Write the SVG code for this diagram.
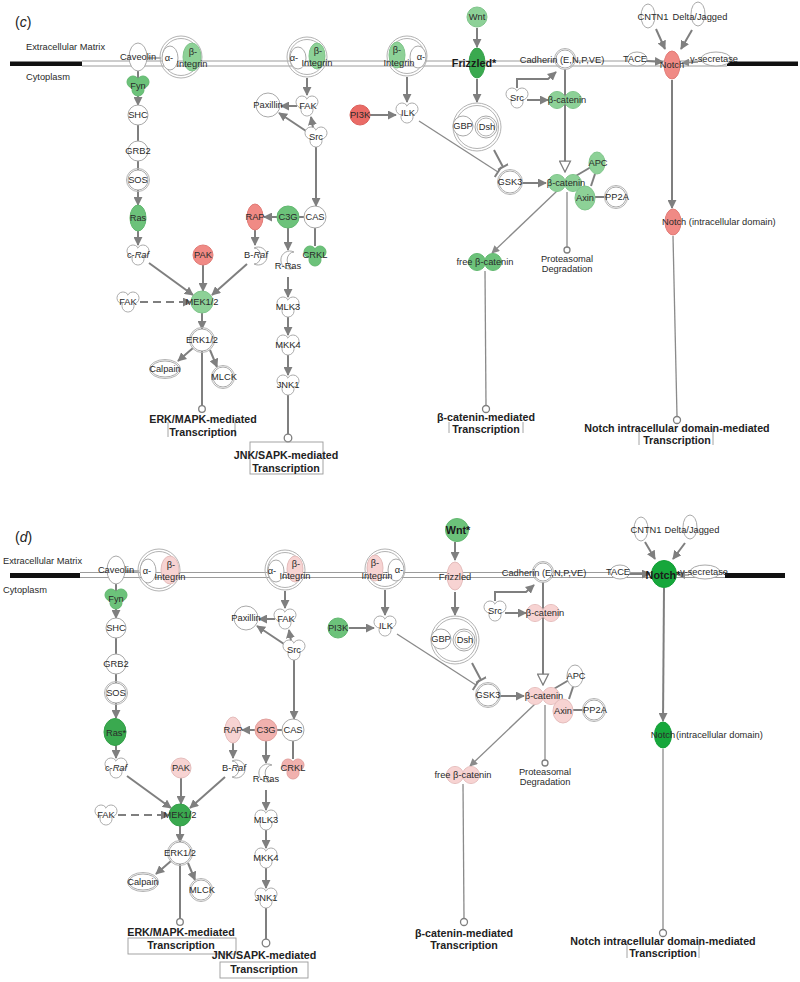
<svg xmlns="http://www.w3.org/2000/svg" width="800" height="982" viewBox="0 0 800 982">
<style>
.t{font-family:"Liberation Sans",Arial,Helvetica,sans-serif;font-size:9.3px;fill:#2a2a2a;text-anchor:middle}
.st{text-anchor:start}
.bt{font-weight:bold;font-size:10.7px;fill:#222}
.big{font-weight:bold;font-size:10.8px;fill:#1a1a1a}
.lab{font-size:14px;fill:#222;text-anchor:start}
.wf{fill:#fff;stroke:#a9a9a9;stroke-width:1}
.rg{fill:none;stroke:#b3b3b3;stroke-width:1}
.gL{fill:#8dd197;stroke:#80c58b;stroke-width:1}
.gM{fill:#6cc27a;stroke:#62b870;stroke-width:1}
.gD{fill:#3aa94f;stroke:#33a048;stroke-width:1}
.gX{fill:#16a73b;stroke:#129f36;stroke-width:1}
.rS{fill:#f08a85;stroke:#e27c77;stroke-width:1}
.rR{fill:#ea6b66;stroke:#dc605b;stroke-width:1}
.pL{fill:#f7d3d2;stroke:#e5bdbc;stroke-width:1}
.pM{fill:#f1b1ae;stroke:#e2a09d;stroke-width:1}
.ln{stroke:#7f7f7f;stroke-width:2;fill:none}
.lt{stroke:#8a8a8a;stroke-width:1.3;fill:none}
.dsh{stroke-dasharray:8,5}
.mem{stroke:#9c9c9c;stroke-width:1;fill:none}
.end{fill:#fff;stroke:#7f7f7f;stroke-width:1.3}
.bx{fill:none;stroke:#9a9a9a;stroke-width:0.9}
</style>
<defs>
<marker id="ah" viewBox="0 0 10 10" refX="9" refY="5" markerUnits="userSpaceOnUse" markerWidth="9" markerHeight="9" orient="auto"><path d="M0,0L10,5L0,10z" fill="#7f7f7f"/></marker>
<marker id="ah2" viewBox="0 0 10 10" refX="9" refY="5" markerUnits="userSpaceOnUse" markerWidth="8" markerHeight="8" orient="auto"><path d="M0,0L10,5L0,10z" fill="#8a8a8a"/></marker>
<marker id="oh" viewBox="0 0 12 12" refX="11" refY="6" markerUnits="userSpaceOnUse" markerWidth="13" markerHeight="13" orient="auto"><path d="M1,1L11,6L1,11z" fill="#fff" stroke="#7f7f7f" stroke-width="1.2"/></marker>
<marker id="tb" viewBox="0 0 4 12" refX="2" refY="6" markerUnits="userSpaceOnUse" markerWidth="4" markerHeight="12" orient="auto"><path d="M2,0V12" stroke="#7f7f7f" stroke-width="2"/></marker>
<g id="kin"><circle cx="-5" cy="-4" r="6"/><circle cx="5" cy="-4" r="6"/><circle cx="0" cy="4" r="6"/><circle cx="-5" cy="-4" r="5.3" stroke="none"/><circle cx="5" cy="-4" r="5.3" stroke="none"/><circle cx="0" cy="4" r="5.3" stroke="none"/></g>
<g id="db"><circle cx="-8" cy="0" r="8.5"/><circle cx="8" cy="0" r="8.5"/><circle cx="-8" cy="0" r="7.9" stroke="none"/><circle cx="8" cy="0" r="7.9" stroke="none"/></g>
<path id="gp" d="M4,-8A9,9 0 1,0 4,8A6,7 0 0,1 4,-8Z"/>
</defs>
<rect width="800" height="982" fill="#fff"/>

<!-- ===================== PANEL (c) ===================== -->
<g id="panel-c">
<text x="15" y="27" class="t lab">(<tspan font-style="italic">c</tspan>)</text>
<text x="26" y="50" class="t st">Extracellular Matrix</text>
<text x="26" y="80" class="t st">Cytoplasm</text>
<g id="c-membrane">
<line x1="82" y1="61" x2="727" y2="61" class="mem"/>
<line x1="82" y1="66" x2="727" y2="66" class="mem"/>
<rect x="10" y="61.5" width="72" height="4.5" fill="#111"/>
<rect x="727" y="61.5" width="71" height="4.5" fill="#111"/>
</g>
<g id="c-connectors">
<line x1="148" y1="58" x2="161" y2="58" class="lt"/>
<line x1="138" y1="71" x2="138" y2="78" class="ln"/>
<line x1="138" y1="96" x2="138" y2="105" class="ln" marker-end="url(#ah)"/>
<line x1="138" y1="125" x2="138" y2="141" class="ln"/>
<line x1="138" y1="161" x2="138" y2="170" class="ln"/>
<line x1="138" y1="190" x2="138" y2="205" class="ln" marker-end="url(#ah)"/>
<line x1="138" y1="231" x2="138" y2="245" class="ln" marker-end="url(#ah)"/>
<line x1="149" y1="263" x2="193" y2="295" class="ln" marker-end="url(#ah)"/>
<line x1="203" y1="265" x2="203" y2="291" class="ln" marker-end="url(#ah)"/>
<line x1="247" y1="264" x2="212" y2="295" class="ln" marker-end="url(#ah)"/>
<line x1="140" y1="302" x2="191" y2="302" class="ln dsh" marker-end="url(#ah)"/>
<line x1="202" y1="313" x2="202" y2="329" class="ln" marker-end="url(#ah)"/>
<line x1="193" y1="348" x2="178" y2="361" class="ln" marker-end="url(#ah)"/>
<line x1="210" y1="350" x2="217" y2="367" class="ln" marker-end="url(#ah)"/>
<line x1="202" y1="351" x2="202" y2="406" class="ln"/>
<circle cx="202" cy="409" r="3.3" class="end"/>
<line x1="255" y1="230" x2="255" y2="245" class="ln" marker-end="url(#ah)"/>
<line x1="277" y1="217" x2="264" y2="217" class="ln" marker-end="url(#ah)"/>
<line x1="299" y1="217" x2="304" y2="217" class="ln"/>
<line x1="315" y1="228" x2="315" y2="246" class="ln"/>
<line x1="288" y1="228" x2="288" y2="250" class="ln" marker-end="url(#ah)"/>
<line x1="288" y1="277" x2="288" y2="297" class="ln" marker-end="url(#ah)"/>
<line x1="288" y1="317" x2="288" y2="335" class="ln" marker-end="url(#ah)"/>
<line x1="288" y1="355" x2="288" y2="375" class="ln" marker-end="url(#ah)"/>
<line x1="288" y1="395" x2="288" y2="434" class="ln"/>
<circle cx="288" cy="438" r="3.8" class="end"/>
<line x1="316" y1="147" x2="316" y2="206" class="ln" marker-end="url(#ah)"/>
<line x1="307" y1="78" x2="307" y2="95" class="ln" marker-end="url(#ah)"/>
<line x1="297" y1="106" x2="281" y2="106" class="ln" marker-end="url(#ah)"/>
<line x1="306" y1="131" x2="279" y2="113" class="ln" marker-end="url(#ah)"/>
<line x1="313" y1="128" x2="311" y2="117" class="ln" marker-end="url(#ah)"/>
<line x1="407" y1="77" x2="407" y2="102" class="ln" marker-end="url(#ah)"/>
<line x1="370" y1="115" x2="396" y2="115" class="ln" marker-end="url(#ah)"/>
<line x1="419" y1="121" x2="498" y2="172" class="lt" marker-end="url(#tb)"/>
<line x1="494" y1="150" x2="503" y2="167" class="ln" marker-end="url(#tb)"/>
<line x1="477" y1="28" x2="477" y2="47" class="ln" marker-end="url(#ah)"/>
<line x1="477" y1="79" x2="477" y2="102" class="ln" marker-end="url(#ah)"/>
<line x1="522" y1="183" x2="546" y2="183" class="ln" marker-end="url(#ah)"/>
<line x1="565" y1="69" x2="565" y2="172" class="ln" marker-end="url(#oh)"/>
<line x1="527" y1="100" x2="548" y2="100" class="ln" marker-end="url(#ah)"/>
<path d="M517,88V79H548L556,72" class="ln" marker-end="url(#ah)"/>
<line x1="574" y1="177" x2="591" y2="167" class="ln"/>
<line x1="595" y1="174" x2="591" y2="186" class="ln"/>
<line x1="595" y1="197" x2="606" y2="197" class="ln"/>
<line x1="557" y1="191" x2="492" y2="253" class="lt" marker-end="url(#ah2)"/>
<line x1="567" y1="192" x2="567" y2="247" class="lt"/>
<circle cx="567" cy="250" r="3" class="end"/>
<line x1="485" y1="271" x2="486" y2="406" class="lt"/>
<circle cx="486" cy="409" r="3.5" class="end"/>
<line x1="656" y1="29" x2="665" y2="49" class="ln" marker-end="url(#ah)"/>
<line x1="692" y1="30" x2="681" y2="49" class="ln" marker-end="url(#ah)"/>
<line x1="647" y1="61" x2="663" y2="62" class="ln" marker-end="url(#ah)"/>
<line x1="698" y1="62" x2="682" y2="63" class="lt" marker-end="url(#ah2)"/>
<line x1="672" y1="80" x2="672" y2="208" class="ln" marker-end="url(#ah)"/>
<line x1="673" y1="236" x2="677" y2="416" class="lt"/>
<circle cx="677" cy="420" r="3.5" class="end"/>
</g>
<g id="c-caveolin"><ellipse cx="138" cy="57" rx="9" ry="14" class="wf"/><text x="138" y="60" class="t">Caveolin</text></g>
<g id="c-integrin1"><circle cx="181" cy="57" r="21" class="rg"/><circle cx="181" cy="57" r="18.5" class="rg"/><ellipse cx="170" cy="58" rx="8" ry="12" class="wf"/><ellipse cx="192" cy="57" rx="9" ry="14" class="gL"/><text x="169" y="61" class="t">α-</text><text x="193" y="55" class="t">β-</text><text x="192" y="67" class="t">Integrin</text></g>
<g id="c-fyn"><use href="#kin" x="138" y="86" class="gM"/><text x="138" y="89" class="t">Fyn</text></g>
<g id="c-shc"><circle cx="138" cy="115" r="10" class="wf"/><text x="138" y="118" class="t">SHC</text></g>
<g id="c-grb2"><circle cx="138" cy="151" r="10" class="wf"/><text x="138" y="154" class="t">GRB2</text></g>
<g id="c-sos"><circle cx="138" cy="180" r="10" class="wf"/><circle cx="138" cy="180" r="11.5" class="rg"/><text x="138" y="183" class="t">SOS</text></g>
<g id="c-ras"><ellipse cx="138" cy="218" rx="8" ry="13" class="gM"/><text x="138" y="221" class="t">Ras</text></g>
<g id="c-craf"><use href="#kin" x="138" y="255" class="wf"/><text x="138" y="258" class="t">c-<tspan font-style="italic">Raf</tspan></text></g>
<g id="c-pak"><circle cx="203" cy="255" r="10" class="rS"/><text x="203" y="258" class="t">PAK</text></g>
<g id="c-mek"><circle cx="202" cy="302" r="11" class="gL"/><text x="202" y="305" class="t">MEK1/2</text></g>
<g id="c-fak2"><use href="#kin" x="128" y="302" class="wf"/><text x="128" y="305" class="t">FAK</text></g>
<g id="c-erk"><circle cx="202" cy="340" r="11" class="wf"/><circle cx="202" cy="340" r="12.5" class="rg"/><text x="202" y="343" class="t">ERK1/2</text></g>
<g id="c-calpain"><ellipse cx="165" cy="369" rx="14" ry="8" class="wf"/><ellipse cx="165" cy="369" rx="15.5" ry="9.5" class="rg"/><text x="165" y="372" class="t">Calpain</text></g>
<g id="c-mlck"><circle cx="223" cy="377" r="10" class="wf"/><circle cx="223" cy="377" r="11.5" class="rg"/><text x="224" y="380" class="t">MLCK</text></g>
<g id="c-rap"><ellipse cx="255" cy="217" rx="8" ry="13" class="rS"/><text x="255" y="220" class="t">RAP</text></g>
<g id="c-braf"><use href="#gp" transform="translate(258,256) scale(-1,1)" class="wf"/><text x="256" y="258" class="t">B-<tspan font-style="italic">Raf</tspan></text></g>
<g id="c-c3g"><circle cx="288" cy="217" r="11" class="gM"/><text x="288" y="220" class="t">C3G</text></g>
<g id="c-cas"><circle cx="315" cy="217" r="11" class="wf"/><text x="315" y="220" class="t">CAS</text></g>
<g id="c-crkl"><use href="#kin" x="315" y="256" class="gM"/><text x="315" y="258" class="t">CRKL</text></g>
<g id="c-rras"><use href="#gp" x="290" y="260" class="wf"/><text x="288" y="269" class="t">R-Ras</text></g>
<g id="c-mlk3"><use href="#kin" x="288" y="307" class="wf"/><text x="288" y="310" class="t">MLK3</text></g>
<g id="c-mkk4"><use href="#kin" x="288" y="345" class="wf"/><text x="288" y="348" class="t">MKK4</text></g>
<g id="c-jnk1"><use href="#kin" x="288" y="385" class="wf"/><text x="288" y="388" class="t">JNK1</text></g>
<g id="c-integrin2"><circle cx="307" cy="57" r="20" class="rg"/><circle cx="307" cy="57" r="17.5" class="rg"/><ellipse cx="298" cy="58" rx="8" ry="11" class="wf"/><ellipse cx="317" cy="56" rx="8" ry="13" class="gL"/><text x="294" y="61" class="t">α-</text><text x="318" y="54" class="t">β-</text><text x="317" y="66" class="t">Integrin</text></g>
<g id="c-paxillin"><circle cx="268" cy="105" r="12" class="wf"/><text x="268" y="108" class="t">Paxillin</text></g>
<g id="c-fak1"><use href="#kin" x="307" y="106" class="wf"/><text x="308" y="109" class="t">FAK</text></g>
<g id="c-src1"><use href="#kin" x="316" y="137" class="wf"/><text x="316" y="140" class="t">Src</text></g>
<g id="c-integrin3"><circle cx="407" cy="56" r="20" class="rg"/><circle cx="407" cy="56" r="17.5" class="rg"/><ellipse cx="418" cy="57" rx="8" ry="11" class="wf"/><ellipse cx="397" cy="55" rx="8" ry="13" class="gL"/><text x="397" y="53" class="t">β-</text><text x="399" y="66" class="t">Integrin</text><text x="421" y="60" class="t">α-</text></g>
<g id="c-ilk"><use href="#kin" x="407" y="113" class="wf"/><text x="408" y="116" class="t">ILK</text></g>
<g id="c-pi3k"><circle cx="360" cy="115" r="10" class="rR"/><text x="360" y="118" class="t">PI3K</text></g>
<g id="c-wnt"><circle cx="477" cy="17" r="10" class="gL"/><text x="477" y="20" class="t">Wnt</text></g>
<g id="c-frizzled"><ellipse cx="477" cy="63" rx="8" ry="15" class="gD"/><text x="474" y="67" class="t big">Frizzled*</text></g>
<g id="c-gbpdsh"><circle cx="477" cy="127" r="24" class="rg"/><circle cx="477" cy="127" r="21.5" class="rg"/><circle cx="463" cy="126" r="10" class="wf"/><circle cx="486" cy="127" r="11" class="wf"/><circle cx="486" cy="127" r="9" class="rg"/><text x="463" y="129" class="t">GBP</text><text x="487" y="130" class="t">Dsh</text></g>
<g id="c-gsk3"><circle cx="510" cy="182" r="11" class="wf"/><circle cx="510" cy="182" r="12.5" class="rg"/><text x="510" y="185" class="t">GSK3</text></g>
<g id="c-bcat2"><use href="#db" x="565" y="183" class="gL"/><text x="566" y="186" class="t">β-catenin</text></g>
<g id="c-apc"><ellipse cx="597" cy="163" rx="8" ry="11" class="gL"/><text x="598" y="166" class="t">APC</text></g>
<g id="c-axin"><ellipse cx="585" cy="198" rx="10" ry="12" class="gL"/><text x="585" y="201" class="t">Axin</text></g>
<g id="c-pp2a"><circle cx="616" cy="197" r="10" class="wf"/><circle cx="616" cy="197" r="11.5" class="rg"/><text x="617" y="200" class="t">PP2A</text></g>
<g id="c-src2"><use href="#kin" x="517" y="98" class="wf"/><text x="517" y="101" class="t">Src</text></g>
<g id="c-bcat1"><use href="#db" x="565" y="100" class="gL"/><text x="567" y="103" class="t">β-catenin</text></g>
<g id="c-cadherin"><circle cx="565" cy="59" r="9" class="wf"/><circle cx="565" cy="59" r="10.5" class="rg"/><text x="562" y="63" class="t">Cadherin (E,N,P,VE)</text></g>
<g id="c-tace"><ellipse cx="637" cy="59" rx="10" ry="7" class="wf"/><text x="635" y="62" class="t">TACE</text></g>
<g id="c-notch"><ellipse cx="672" cy="65" rx="8" ry="14" class="rS"/><text x="672" y="68" class="t">Notch</text></g>
<g id="c-gsec"><ellipse cx="716" cy="59" rx="15" ry="7" class="wf"/><text x="714" y="62" class="t">γ-secretase</text></g>
<g id="c-cntn1"><ellipse cx="648" cy="16" rx="7" ry="12" class="wf"/><text x="653" y="20" class="t">CNTN1</text></g>
<g id="c-delta"><ellipse cx="698" cy="14" rx="7" ry="12" class="wf"/><text x="700" y="20" class="t">Delta/Jagged</text></g>
<g id="c-nicd"><ellipse cx="673" cy="222" rx="8" ry="13" class="rS"/><text x="662" y="225" class="t st">Notch (intracellular domain)</text></g>
<g id="c-freebcat"><use href="#db" x="485" y="262" class="gM"/><text x="485" y="265" class="t">free β-catenin</text></g>
<g id="c-prot"><text x="567" y="261.5" class="t">Proteasomal</text><text x="567" y="271.5" class="t">Degradation</text></g>
<g id="c-erktx"><line x1="168" y1="422" x2="168" y2="437" class="bx"/><line x1="235" y1="422" x2="235" y2="437" class="bx"/><text x="203" y="423" class="t bt">ERK/MAPK-mediated</text><text x="203" y="436" class="t bt">Transcription</text></g>
<g id="c-jnktx"><rect x="250" y="442" width="73" height="32" class="bx"/><text x="286" y="459" class="t bt">JNK/SAPK-mediated</text><text x="286" y="472" class="t bt">Transcription</text></g>
<g id="c-bcattx"><line x1="449" y1="422" x2="449" y2="433" class="bx"/><line x1="523" y1="422" x2="523" y2="433" class="bx"/><text x="486" y="421" class="t bt">β-catenin-mediated</text><text x="486" y="433" class="t bt">Transcription</text></g>
<g id="c-notchtx"><line x1="639" y1="428" x2="639" y2="445" class="bx"/><line x1="713" y1="428" x2="713" y2="445" class="bx"/><text x="677" y="432" class="t bt">Notch intracellular domain-mediated</text><text x="677" y="444" class="t bt">Transcription</text></g>
</g>

<!-- ===================== PANEL (d) ===================== -->
<g id="panel-d">
<g id="d-membrane">
<line x1="80" y1="572.5" x2="725" y2="572.5" class="mem"/>
<line x1="80" y1="577.5" x2="725" y2="577.5" class="mem"/>
<rect x="10" y="573" width="70" height="5" fill="#111"/>
<rect x="725" y="573" width="60" height="5" fill="#111"/>
</g>
<g transform="translate(-22,513)">
<text x="37" y="29" class="t lab">(<tspan font-style="italic">d</tspan>)</text>
<text x="25" y="51" class="t st">Extracellular Matrix</text>
<text x="25" y="80" class="t st">Cytoplasm</text>
<g id="d-connectors">
<line x1="148" y1="58" x2="161" y2="58" class="lt"/>
<line x1="138" y1="71" x2="138" y2="78" class="ln"/>
<line x1="138" y1="96" x2="138" y2="105" class="ln" marker-end="url(#ah)"/>
<line x1="138" y1="125" x2="138" y2="141" class="ln"/>
<line x1="138" y1="161" x2="138" y2="170" class="ln"/>
<line x1="138" y1="190" x2="138" y2="205" class="ln" marker-end="url(#ah)"/>
<line x1="138" y1="232" x2="138" y2="245" class="ln" marker-end="url(#ah)"/>
<line x1="149" y1="263" x2="193" y2="295" class="ln" marker-end="url(#ah)"/>
<line x1="203" y1="265" x2="203" y2="291" class="ln" marker-end="url(#ah)"/>
<line x1="247" y1="264" x2="212" y2="295" class="ln" marker-end="url(#ah)"/>
<line x1="140" y1="302" x2="191" y2="302" class="ln dsh" marker-end="url(#ah)"/>
<line x1="202" y1="313" x2="202" y2="329" class="ln" marker-end="url(#ah)"/>
<line x1="193" y1="348" x2="178" y2="361" class="ln" marker-end="url(#ah)"/>
<line x1="210" y1="350" x2="217" y2="367" class="ln" marker-end="url(#ah)"/>
<line x1="202" y1="351" x2="202" y2="406" class="ln"/>
<circle cx="202" cy="409" r="3.3" class="end"/>
<line x1="255" y1="230" x2="255" y2="245" class="ln" marker-end="url(#ah)"/>
<line x1="277" y1="217" x2="264" y2="217" class="ln" marker-end="url(#ah)"/>
<line x1="299" y1="217" x2="304" y2="217" class="ln"/>
<line x1="315" y1="228" x2="315" y2="246" class="ln"/>
<line x1="288" y1="228" x2="288" y2="250" class="ln" marker-end="url(#ah)"/>
<line x1="288" y1="277" x2="288" y2="297" class="ln" marker-end="url(#ah)"/>
<line x1="288" y1="317" x2="288" y2="335" class="ln" marker-end="url(#ah)"/>
<line x1="288" y1="355" x2="288" y2="375" class="ln" marker-end="url(#ah)"/>
<line x1="288" y1="395" x2="288" y2="426" class="ln"/>
<circle cx="288" cy="430" r="3.8" class="end"/>
<line x1="316" y1="147" x2="316" y2="206" class="ln" marker-end="url(#ah)"/>
<line x1="307" y1="78" x2="307" y2="95" class="ln" marker-end="url(#ah)"/>
<line x1="297" y1="106" x2="281" y2="106" class="ln" marker-end="url(#ah)"/>
<line x1="306" y1="131" x2="279" y2="113" class="ln" marker-end="url(#ah)"/>
<line x1="313" y1="128" x2="311" y2="117" class="ln" marker-end="url(#ah)"/>
<line x1="407" y1="77" x2="407" y2="102" class="ln" marker-end="url(#ah)"/>
<line x1="371" y1="115" x2="396" y2="115" class="ln" marker-end="url(#ah)"/>
<line x1="419" y1="121" x2="498" y2="172" class="lt" marker-end="url(#tb)"/>
<line x1="494" y1="150" x2="503" y2="167" class="ln" marker-end="url(#tb)"/>
<line x1="477" y1="29" x2="477" y2="47" class="ln" marker-end="url(#ah)"/>
<line x1="477" y1="79" x2="477" y2="102" class="ln" marker-end="url(#ah)"/>
<line x1="522" y1="183" x2="546" y2="183" class="ln" marker-end="url(#ah)"/>
<line x1="565" y1="69" x2="565" y2="172" class="ln" marker-end="url(#oh)"/>
<line x1="527" y1="100" x2="548" y2="100" class="ln" marker-end="url(#ah)"/>
<path d="M517,88V79H548L556,72" class="ln" marker-end="url(#ah)"/>
<line x1="574" y1="177" x2="591" y2="167" class="ln"/>
<line x1="595" y1="174" x2="591" y2="186" class="ln"/>
<line x1="595" y1="197" x2="606" y2="197" class="ln"/>
<line x1="557" y1="191" x2="492" y2="253" class="lt" marker-end="url(#ah2)"/>
<line x1="567" y1="192" x2="567" y2="247" class="lt"/>
<circle cx="567" cy="250" r="3" class="end"/>
<line x1="485" y1="271" x2="486" y2="406" class="lt"/>
<circle cx="486" cy="409" r="3.5" class="end"/>
<line x1="652" y1="61" x2="672" y2="61" class="ln" marker-end="url(#ah)"/>
<g transform="translate(13,0)">
<line x1="654" y1="29" x2="664" y2="46" class="ln" marker-end="url(#ah)"/>
<line x1="694" y1="30" x2="682" y2="46" class="ln" marker-end="url(#ah)"/>
<line x1="698" y1="62" x2="687" y2="62" class="lt" marker-end="url(#ah2)"/>
<line x1="673" y1="75" x2="672" y2="208" class="ln" marker-end="url(#ah)"/>
<line x1="672" y1="236" x2="672" y2="416" class="lt"/>
<circle cx="672" cy="420" r="3.5" class="end"/>
</g>
</g>
<g id="d-caveolin"><ellipse cx="138" cy="57" rx="9" ry="14" class="wf"/><text x="138" y="60" class="t">Caveolin</text></g>
<g id="d-integrin1"><circle cx="181" cy="57" r="21" class="rg"/><circle cx="181" cy="57" r="18.5" class="rg"/><ellipse cx="170" cy="58" rx="8" ry="12" class="wf"/><ellipse cx="192" cy="57" rx="9" ry="14" class="pL"/><text x="169" y="61" class="t">α-</text><text x="193" y="55" class="t">β-</text><text x="192" y="67" class="t">Integrin</text></g>
<g id="d-fyn"><use href="#kin" x="138" y="86" class="gM"/><text x="138" y="89" class="t">Fyn</text></g>
<g id="d-shc"><circle cx="138" cy="115" r="10" class="wf"/><text x="138" y="118" class="t">SHC</text></g>
<g id="d-grb2"><circle cx="138" cy="151" r="10" class="wf"/><text x="138" y="154" class="t">GRB2</text></g>
<g id="d-sos"><circle cx="138" cy="180" r="10" class="wf"/><circle cx="138" cy="180" r="11.5" class="rg"/><text x="138" y="183" class="t">SOS</text></g>
<g id="d-ras"><ellipse cx="137" cy="219" rx="11" ry="13.5" class="gD"/><text x="138" y="223" class="t" font-size="11.5">Ras*</text></g>
<g id="d-craf"><use href="#kin" x="138" y="255" class="wf"/><text x="138" y="258" class="t">c-<tspan font-style="italic">Raf</tspan></text></g>
<g id="d-pak"><circle cx="203" cy="255" r="10" class="pL"/><text x="203" y="258" class="t">PAK</text></g>
<g id="d-mek"><circle cx="202" cy="302" r="11" class="gD"/><text x="202" y="305" class="t">MEK1/2</text></g>
<g id="d-fak2"><use href="#kin" x="128" y="302" class="wf"/><text x="128" y="305" class="t">FAK</text></g>
<g id="d-erk"><circle cx="202" cy="340" r="11" class="wf"/><circle cx="202" cy="340" r="12.5" class="rg"/><text x="202" y="343" class="t">ERK1/2</text></g>
<g id="d-calpain"><ellipse cx="165" cy="369" rx="14" ry="8" class="wf"/><ellipse cx="165" cy="369" rx="15.5" ry="9.5" class="rg"/><text x="165" y="372" class="t">Calpain</text></g>
<g id="d-mlck"><circle cx="223" cy="377" r="10" class="wf"/><circle cx="223" cy="377" r="11.5" class="rg"/><text x="224" y="380" class="t">MLCK</text></g>
<g id="d-rap"><ellipse cx="255" cy="217" rx="8" ry="13" class="pL"/><text x="255" y="220" class="t">RAP</text></g>
<g id="d-braf"><use href="#gp" transform="translate(258,256) scale(-1,1)" class="wf"/><text x="256" y="258" class="t">B-<tspan font-style="italic">Raf</tspan></text></g>
<g id="d-c3g"><circle cx="288" cy="217" r="11" class="pM"/><text x="288" y="220" class="t">C3G</text></g>
<g id="d-cas"><circle cx="315" cy="217" r="11" class="wf"/><text x="315" y="220" class="t">CAS</text></g>
<g id="d-crkl"><use href="#kin" x="315" y="256" class="pM"/><text x="315" y="258" class="t">CRKL</text></g>
<g id="d-rras"><use href="#gp" x="290" y="260" class="wf"/><text x="288" y="269" class="t">R-Ras</text></g>
<g id="d-mlk3"><use href="#kin" x="288" y="307" class="wf"/><text x="288" y="310" class="t">MLK3</text></g>
<g id="d-mkk4"><use href="#kin" x="288" y="345" class="wf"/><text x="288" y="348" class="t">MKK4</text></g>
<g id="d-jnk1"><use href="#kin" x="288" y="385" class="wf"/><text x="288" y="388" class="t">JNK1</text></g>
<g id="d-integrin2"><circle cx="307" cy="57" r="20" class="rg"/><circle cx="307" cy="57" r="17.5" class="rg"/><ellipse cx="298" cy="58" rx="8" ry="11" class="wf"/><ellipse cx="317" cy="56" rx="8" ry="13" class="pL"/><text x="294" y="61" class="t">α-</text><text x="318" y="54" class="t">β-</text><text x="317" y="66" class="t">Integrin</text></g>
<g id="d-paxillin"><circle cx="268" cy="105" r="12" class="wf"/><text x="268" y="108" class="t">Paxillin</text></g>
<g id="d-fak1"><use href="#kin" x="307" y="106" class="wf"/><text x="308" y="109" class="t">FAK</text></g>
<g id="d-src1"><use href="#kin" x="316" y="137" class="wf"/><text x="316" y="140" class="t">Src</text></g>
<g id="d-integrin3"><circle cx="407" cy="56" r="20" class="rg"/><circle cx="407" cy="56" r="17.5" class="rg"/><ellipse cx="418" cy="57" rx="8" ry="11" class="wf"/><ellipse cx="397" cy="55" rx="8" ry="13" class="pL"/><text x="397" y="53" class="t">β-</text><text x="399" y="66" class="t">Integrin</text><text x="421" y="60" class="t">α-</text></g>
<g id="d-ilk"><use href="#kin" x="407" y="113" class="wf"/><text x="408" y="116" class="t">ILK</text></g>
<g id="d-pi3k"><circle cx="360" cy="115" r="10" class="gM"/><text x="360" y="118" class="t">PI3K</text></g>
<g id="d-wnt"><circle cx="479" cy="17" r="11.5" class="gM"/><text x="480" y="21" class="t big">Wnt*</text></g>
<g id="d-frizzled"><ellipse cx="477" cy="63" rx="8" ry="14" class="pL"/><text x="477" y="67" class="t">Frizzled</text></g>
<g id="d-gbpdsh"><circle cx="477" cy="127" r="24" class="rg"/><circle cx="477" cy="127" r="21.5" class="rg"/><circle cx="463" cy="126" r="10" class="wf"/><circle cx="486" cy="127" r="11" class="wf"/><circle cx="486" cy="127" r="9" class="rg"/><text x="463" y="129" class="t">GBP</text><text x="487" y="130" class="t">Dsh</text></g>
<g id="d-gsk3"><circle cx="510" cy="182" r="11" class="wf"/><circle cx="510" cy="182" r="12.5" class="rg"/><text x="510" y="185" class="t">GSK3</text></g>
<g id="d-bcat2"><use href="#db" x="565" y="183" class="pL"/><text x="566" y="186" class="t">β-catenin</text></g>
<g id="d-apc"><ellipse cx="597" cy="163" rx="8" ry="11" class="wf"/><text x="598" y="166" class="t">APC</text></g>
<g id="d-axin"><ellipse cx="585" cy="198" rx="10" ry="12" class="pL"/><text x="585" y="201" class="t">Axin</text></g>
<g id="d-pp2a"><circle cx="616" cy="197" r="10" class="wf"/><circle cx="616" cy="197" r="11.5" class="rg"/><text x="617" y="200" class="t">PP2A</text></g>
<g id="d-src2"><use href="#kin" x="517" y="98" class="wf"/><text x="517" y="101" class="t">Src</text></g>
<g id="d-bcat1"><use href="#db" x="565" y="100" class="pL"/><text x="567" y="103" class="t">β-catenin</text></g>
<g id="d-cadherin"><circle cx="565" cy="59" r="9" class="wf"/><circle cx="565" cy="59" r="10.5" class="rg"/><text x="566" y="63" class="t">Cadherin (E,N,P,VE)</text></g>
<g id="d-tace"><ellipse cx="642" cy="59" rx="10" ry="7" class="wf"/><text x="640" y="62" class="t">TACE</text></g>
<g transform="translate(13,0)">
<g id="d-notch"><ellipse cx="673" cy="61" rx="12.5" ry="13.5" class="gX"/><text x="672" y="66" class="t big">Notch*</text></g>
<g id="d-gsec"><ellipse cx="714" cy="59" rx="15" ry="7" class="wf"/><text x="713" y="62" class="t">γ-secretase</text></g>
<g id="d-cntn1"><ellipse cx="650" cy="16" rx="7" ry="12" class="wf"/><text x="655" y="20" class="t">CNTN1</text></g>
<g id="d-delta"><ellipse cx="699" cy="14" rx="7" ry="12" class="wf"/><text x="701" y="20" class="t">Delta/Jagged</text></g>
<g id="d-nicd"><ellipse cx="672" cy="222" rx="8.5" ry="13" class="gX"/><text x="685" y="225" class="t st">(intracellular domain)</text><text x="672" y="225" class="t">Notch</text></g>
<g id="d-notchtx"><line x1="636" y1="428" x2="636" y2="445" class="bx"/><line x1="708" y1="428" x2="708" y2="445" class="bx"/><text x="672" y="432" class="t bt">Notch intracellular domain-mediated</text><text x="672" y="444" class="t bt">Transcription</text></g>
</g>
<g id="d-freebcat"><use href="#db" x="485" y="262" class="pL"/><text x="485" y="265" class="t">free β-catenin</text></g>
<g id="d-prot"><text x="567" y="261.5" class="t">Proteasomal</text><text x="567" y="271.5" class="t">Degradation</text></g>
<g id="d-erktx"><rect x="150" y="425" width="108" height="16" class="bx"/><text x="203" y="423" class="t bt">ERK/MAPK-mediated</text><text x="203" y="436" class="t bt">Transcription</text></g>
<g id="d-jnktx"><rect x="242" y="449" width="88" height="16" class="bx"/><text x="286" y="446" class="t bt">JNK/SAPK-mediated</text><text x="286" y="460" class="t bt">Transcription</text></g>
<g id="d-bcattx"><text x="486" y="424" class="t bt">β-catenin-mediated</text><text x="486" y="436" class="t bt">Transcription</text></g>
</g>
</g>
</svg>
